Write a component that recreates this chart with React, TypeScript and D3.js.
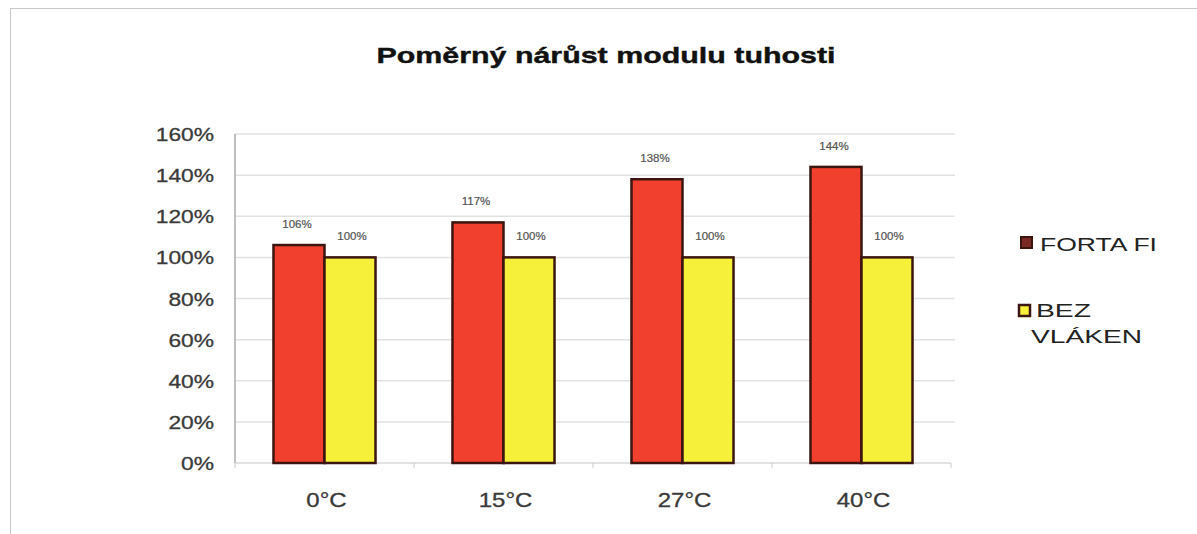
import React from 'react';
import { scaleLinear, scaleBand, range } from 'd3';

// chart data
const categories = ['0°C', '15°C', '27°C', '40°C'];
const seriesNames = ['FORTA FI', 'BEZ VLÁKEN'];
const fortaFi = [106, 117, 138, 144];
const bezVlaken = [100, 100, 100, 100];
const yTicks = [0, 20, 40, 60, 80, 100, 120, 140, 160];

const colors = ['#f2402e', '#f7f03a'];
const stroke = '#3b1510';

export default function App() {
  const width = 1197;
  const height = 534;
  const margin = { top: 134, right: 246, bottom: 71, left: 235 };
  const innerW = width - margin.left - margin.right;
  const innerH = height - margin.top - margin.bottom;

  const x = scaleBand().domain(categories).range([0, innerW]).paddingInner(0.43).paddingOuter(0.215);
  const x1 = scaleBand().domain(seriesNames).range([0, x.bandwidth()]);
  const y = scaleLinear().domain([0, 160]).range([innerH, 0]);
  const band = innerW / categories.length;

  const values = [fortaFi, bezVlaken];
  const sx = 1.2; // the source picture is stretched sideways

  return (
    <svg width={width} height={height} style={{ position: 'absolute', left: 0, top: 0 }}
      fontFamily="'Liberation Sans', Arial, sans-serif">
      <rect x={0} y={0} width={width} height={height} fill="#fff" />
      <rect x={10.5} y={8.5} width={width} height={height} fill="none" stroke="#c8c8c8" />

      <text x={606} y={63} textAnchor="middle" fontSize={22} fontWeight="bold" fill="#111"
        stroke="#111" strokeWidth={0.4}
        textLength={459} lengthAdjust="spacingAndGlyphs">Poměrný nárůst modulu tuhosti</text>

      <g transform={`translate(${margin.left},${margin.top})`}>
        {yTicks.map(t => (
          <g key={t}>
            {t > 0 && <line x1={0} x2={innerW + 4} y1={y(t)} y2={y(t)} stroke="#e2e2e2" strokeWidth={1.5} />}
            <text transform={`translate(-21,${y(t) + 7}) scale(${sx},1)`} textAnchor="end" fontSize={19}
              fill="#3a3a3a" stroke="#3a3a3a" strokeWidth={0.3}>{t}%</text>
          </g>
        ))}
        <line x1={0} x2={0} y1={0} y2={innerH} stroke="#aaa" strokeWidth={1.5} />
        <line x1={0} x2={innerW} y1={innerH} y2={innerH} stroke="#d8d8d8" strokeWidth={1.5} />
        {range(categories.length + 1).map(i => (
          <line key={i} x1={i * band} x2={i * band} y1={innerH} y2={innerH + 5} stroke="#ccc" />
        ))}

        {categories.map((c, ci) => (
          <g key={c} transform={`translate(${x(c)},0)`}>
            {seriesNames.map((s, si) => {
              const v = values[si][ci];
              const bx = x1(s) as number;
              return (
                <g key={s}>
                  <rect x={bx} y={y(v)} width={x1.bandwidth()} height={innerH - y(v)}
                    fill={colors[si]} stroke={stroke} strokeWidth={2.5} />
                  <text transform={`translate(${bx + x1.bandwidth() / 2 + (si === 0 ? -2 : 2)},${y(v) - 17}) scale(1.15,1)`}
                    textAnchor="middle" fontSize={10} fill="#555" stroke="#555" strokeWidth={0.2}>{v}%</text>
                </g>
              );
            })}
            <text transform={`translate(${x.bandwidth() / 2 + 2},${innerH + 44}) scale(${sx},1)`}
              textAnchor="middle" fontSize={20} fill="#3a3a3a" stroke="#3a3a3a" strokeWidth={0.3}>{c}</text>
          </g>
        ))}
      </g>

      <g fontSize={18} fill="#222">
        <rect x={1021} y={237} width={11} height={11} fill="#7a2a22" stroke={stroke} strokeWidth={2} />
        <text x={1040} y={251} textLength={117} lengthAdjust="spacingAndGlyphs">FORTA FI</text>
        <rect x={1019} y={305} width={11} height={11} fill={colors[1]} stroke={stroke} strokeWidth={2.5} />
        <text x={1036} y={317} textLength={55} lengthAdjust="spacingAndGlyphs">BEZ</text>
        <text x={1031} y={343} textLength={111} lengthAdjust="spacingAndGlyphs">VLÁKEN</text>
      </g>
    </svg>
  );
}
